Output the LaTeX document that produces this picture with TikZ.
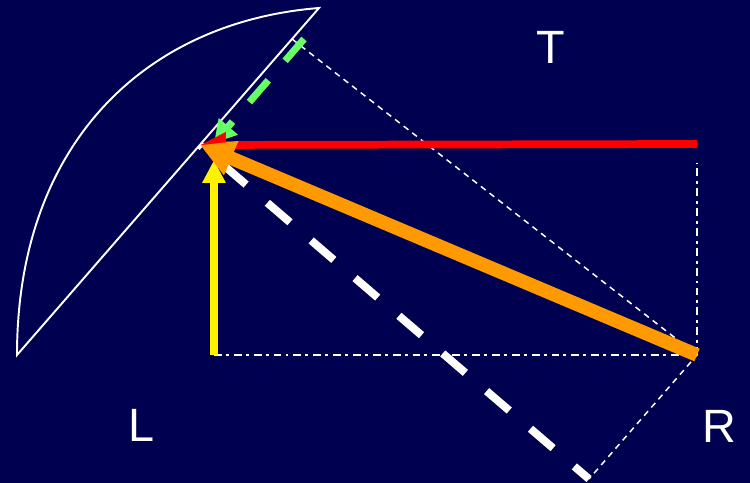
\documentclass[tikz,border=0pt]{standalone}
\usepackage{fontspec}
\setmainfont{Liberation Sans}
\usetikzlibrary{arrows.meta}
\definecolor{fondo}{RGB}{0,0,80}
\definecolor{verde}{RGB}{102,255,102}
\definecolor{naranja}{RGB}{255,153,0}

\begin{document}
\begin{tikzpicture}[x=0.02cm, y=0.02cm,
    guia/.style={white, line width=0.85pt, dash pattern=on 3.4pt off 2.8pt},
    ejes/.style={white, line width=1.2pt, dash pattern=on 4.5pt off 2.3pt on 1.7pt off 2.8pt},
    letra/.style={white, font=\fontsize{26.6}{30}\selectfont, inner sep=0pt}]
            % Fondo
            \fill[fondo] (0,0) rectangle (750,483);
            \useasboundingbox (0,0) rectangle (750,483);

            % Puntos
            \coordinate (A) at (17,128);
            \coordinate (B) at (319,475);
            \coordinate (P) at (200,338);
            \coordinate (C) at (292,444);
            \coordinate (R) at (697,128);
            \coordinate (D) at (589,4);
            \coordinate (Rt) at (697,339);
            \coordinate (V) at (697,320);
            \coordinate (Y0) at (214,128);
            \coordinate (Y1) at (214,323);
            \coordinate (G0) at (304,444);
            \coordinate (G1) at (214,340);

            % Segmento circular
            \draw[white, line width=1.1pt] (A) .. controls (17,338) and (144,461) .. (B) -- cycle;

            % Lineas auxiliares
            \draw[guia] (C) -- (R) -- (D);
            \draw[ejes] (Y0) -- (R);
            \draw[ejes] (R) -- (V);

            % Normal (blanca)
            \draw[white, line width=4.5pt, dash pattern=on 17pt off 15.9pt, dash phase=15.3pt] (P) -- (D);

            % Tangente (verde)
            \draw[-{Triangle[length=12.5pt, width=13.6pt]}, verde, line width=4pt, dash pattern=on 16.4pt off 14.7pt] (G0) -- (G1);

            % Vectores
            \draw[-{Triangle[length=13pt, width=12.5pt]}, yellow, line width=4.2pt] (Y0) -- (Y1);
            \draw[-{Triangle[length=14.7pt, width=13.6pt]}, red, line width=4.4pt] (Rt) -- (P);
            \draw[-{Triangle[length=19.3pt, width=19.8pt]}, naranja, line width=7.8pt] (R) -- (P);

            % Etiquetas
            \node[letra] (T) at (550.5,435.5) {T};
            \node[letra] (L) at (141.5,57.5) {L};
            \node[letra] (Rlab) at (719.5,56.5) {R};
        \end{tikzpicture}
\end{document}
